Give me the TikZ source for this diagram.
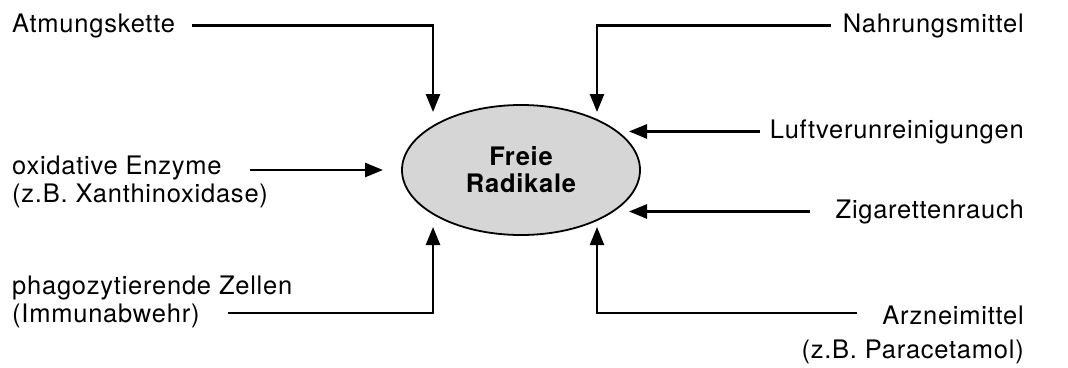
\documentclass[tikz,border=0pt]{standalone}
\usepackage{fontspec}
\setmainfont{TeX Gyre Heros}[LetterSpace=3]
\usetikzlibrary{arrows.meta,shapes.geometric,calc}
\begin{document}
\begin{tikzpicture}[x=1pt,y=-1pt,
  lab/.style={inner sep=0pt,font=\fontsize{25.5}{28}\selectfont},
  arr/.style={line width=2.6pt,-{Triangle[length=18pt,width=14pt]}},
  ]
\useasboundingbox (0,0) rectangle (1068,367);
\node[ellipse,draw,line width=1.8pt,fill=black!16,minimum width=238pt,minimum height=130pt,
  inner sep=0pt,font=\bfseries\fontsize{25.5}{27}\selectfont,align=center] (fr) at (521,170) {Freie\\Radikale};

\node[lab,anchor=base west] (atm) at (12,32) {Atmungskette};
\node[lab,anchor=base east] (nahr) at (1024,32) {Nahrungsmittel};
\node[lab,anchor=base east] (luft) at (1024,138) {Luftverunreinigungen};
\node[lab,anchor=base east] (zig) at (1024,218) {Zigarettenrauch};
\node[lab,anchor=north west,align=left] (oxi) at (12,156) {oxidative Enzyme\\(z.B. Xanthinoxidase)};
\node[lab,anchor=north west,align=left] (phago) at (12,276) {phagozytierende Zellen\\(Immunabwehr)};
\node[lab,anchor=north east,align=right] (arz) at (1024,306) {Arzneimittel\\[6pt](z.B. Paracetamol)};

% arrow tips around the ellipse
\coordinate (tA) at ($(fr.center)+(-88,-58)$);
\coordinate (tN) at ($(fr.center)+(76,-58)$);
\coordinate (tP) at ($(fr.center)+(-88,57)$);
\coordinate (tZz) at ($(fr.center)+(76,57)$);
\coordinate (tO) at ($(fr.center)+(-138,0)$);
\coordinate (tR) at ($(fr.center)+(108,0)$);
% tails of connectors from two-line labels
\coordinate (sO) at (250,170);
\coordinate (sP) at (228,313);
\coordinate (sZ) at (857,313);

\draw[arr] ($(atm.east)+(17,0)$) -| (tA);
\draw[arr] ($(nahr.west)+(-12,0)$) -| (tN);
\draw[arr] ($(luft.west)+(-10,0)$) -- (luft.west -| tR);
\draw[arr] ($(zig.west)+(-25,0)$) -- (zig.west -| tR);
\draw[arr] (sO) -- (tO);
\draw[arr] (sP) -| (tP);
\draw[arr,line width=2.2pt] (sZ) -| (tZz);
\end{tikzpicture}
\end{document}
